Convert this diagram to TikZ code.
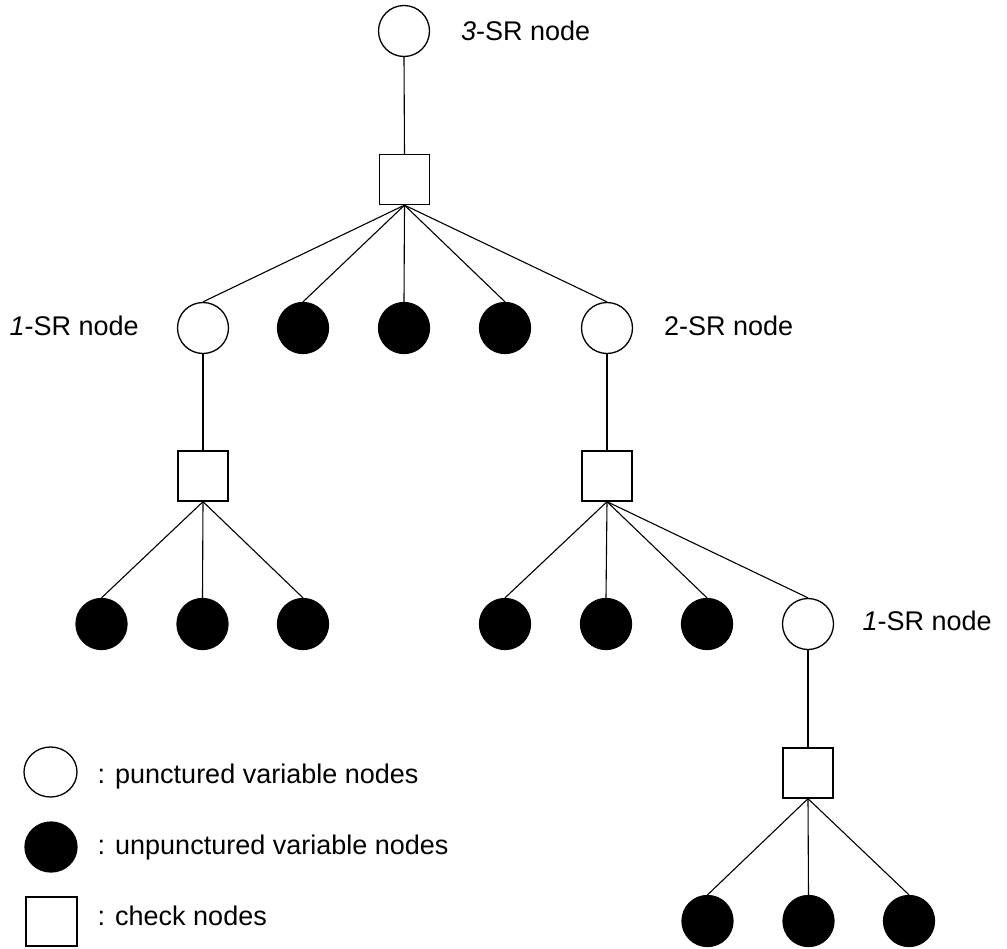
\documentclass[tikz,border=0pt]{standalone}
\usepackage{fontspec}
\setmainfont{Liberation Sans}
\usetikzlibrary{shapes.geometric}
\begin{document}
\begin{tikzpicture}[x=1bp,y=-1bp,
  pv/.style={circle,draw,line width=1.3bp,minimum size=51bp,inner sep=0pt,fill=white},
  uv/.style={circle,draw,fill=black,line width=1.3bp,minimum size=51bp,inner sep=0pt},
  ck/.style={rectangle,draw,line width=1.3bp,minimum size=50bp,inner sep=0pt,fill=white},
  lbl/.style={anchor=base west,inner sep=0pt,font=\fontsize{27bp}{31bp}\selectfont},
  edge/.style={line width=1.1bp}]
\useasboundingbox (0,0) rectangle (1007,949);
% nodes
\node[pv] (v0) at (404,31) {};
\node[ck] (c0) at (404.5,179.5) {};
\node[pv] (a1) at (203,328) {};
\node[uv] (a2) at (303,328) {};
\node[uv] (a3) at (404,328) {};
\node[uv] (a4) at (505,328) {};
\node[pv] (a5) at (607,328) {};
\node[ck] (cl) at (203,476) {};
\node[ck] (cr) at (607,476) {};
\node[uv] (l1) at (101.5,624) {};
\node[uv] (l2) at (202.5,624) {};
\node[uv] (l3) at (303,624) {};
\node[uv] (r1) at (505,624) {};
\node[uv] (r2) at (606,624) {};
\node[uv] (r3) at (707,624) {};
\node[pv] (r4) at (808,624) {};
\node[ck] (cb) at (808,773) {};
\node[uv] (b1) at (707.5,921) {};
\node[uv] (b2) at (808.5,921) {};
\node[uv] (b3) at (909,921) {};
% legend
\node[pv,ellipse,minimum width=53bp,minimum height=50bp] (lg1) at (50.5,772) {};
\node[uv,ellipse,minimum width=52bp,minimum height=50bp] (lg2) at (51,847) {};
\node[ck,minimum width=51bp,minimum height=49bp] (lg3) at (51.5,921.5) {};
% edges
\draw[edge] (v0.south) -- (c0.north);
\foreach \t in {a1,a2,a3,a4,a5} \draw[edge] (c0.south) -- (\t.north);
\draw[edge] (a1.south) -- (cl.north);
\draw[edge] (a5.south) -- (cr.north);
\foreach \t in {l1,l2,l3} \draw[edge] (cl.south) -- (\t.north);
\foreach \t in {r1,r2,r3,r4} \draw[edge] (cr.south) -- (\t.north);
\draw[edge] (r4.south) -- (cb.north);
\foreach \t in {b1,b2,b3} \draw[edge] (cb.south) -- (\t.north);
% labels
\node[lbl] (t0) at (461,40) {\textit{3}-SR node};
\node[lbl] (t1) at (9.5,335) {\textit{1}-SR node};
\node[lbl] (t2) at (664,335) {2-SR node};
\node[lbl] (t3) at (862.5,630) {\textit{1}-SR node};
\node[lbl] (k1) at (97.5,783) {: punctured variable nodes};
\node[lbl] (k2) at (97.5,854) {: unpunctured variable nodes};
\node[lbl] (k3) at (97.5,925) {: check nodes};
\end{tikzpicture}
\end{document}
